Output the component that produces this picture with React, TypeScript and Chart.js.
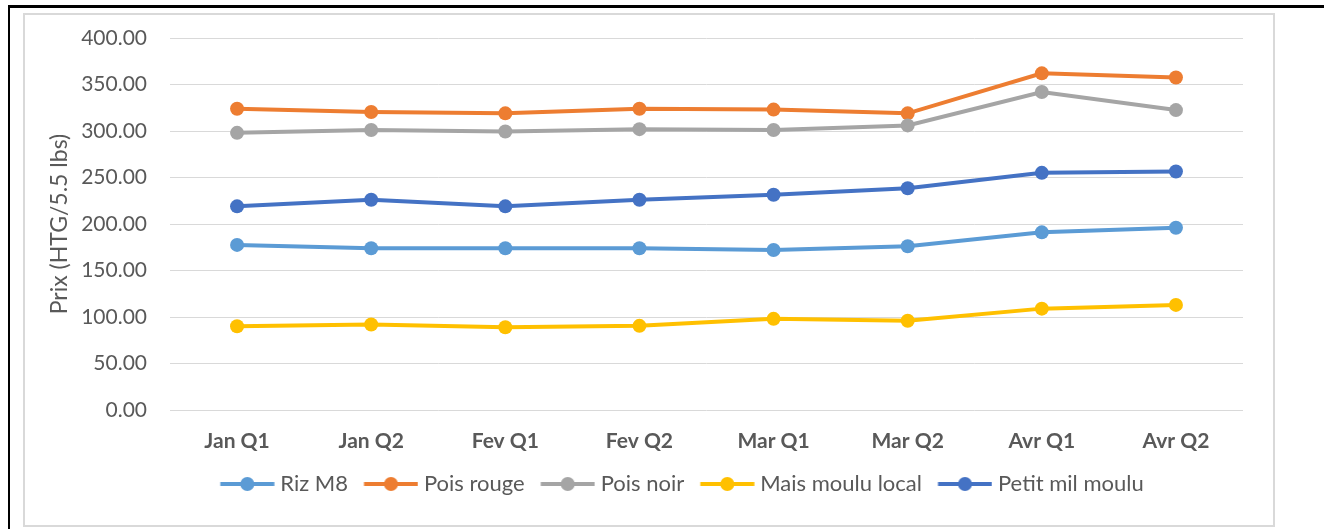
import React, { useEffect, useRef } from "react";
import { Chart, registerables } from "chart.js";

Chart.register(...registerables);

const categories = ["Jan Q1", "Jan Q2", "Fev Q1", "Fev Q2", "Mar Q1", "Mar Q2", "Avr Q1", "Avr Q2"];
const rizM8 = [177.5, 174, 174, 174, 172, 176, 191, 196];
const poisRouge = [324, 320.5, 319, 324, 323, 319, 362, 357.5];
const poisNoir = [298, 301, 299.5, 302, 301, 306, 342, 322.5];
const maisMouluLocal = [90, 92, 89, 90.5, 98, 96, 109, 113];
const petitMilMoulu = [219, 226, 219, 226, 231.5, 238.5, 255, 256.5];
const seriesNames = ["Riz M8", "Pois rouge", "Pois noir", "Mais moulu local", "Petit mil moulu"];
const seriesValues = [rizM8, poisRouge, poisNoir, maisMouluLocal, petitMilMoulu];
const seriesColors = ["#5B9BD5", "#ED7D31", "#A5A5A5", "#FFC000", "#4472C4"];
const yAxisTitle = "Prix (HTG/5.5 lbs)";
const yMin = 0;
const yMax = 400;
const yStep = 50;

const TEXT = "#595959";
const FONT = "Lato";

function makeMarker(color: string): HTMLCanvasElement {
  const c = document.createElement("canvas");
  c.width = 60;
  c.height = 16;
  const ctx = c.getContext("2d")!;
  ctx.strokeStyle = color;
  ctx.fillStyle = color;
  ctx.lineWidth = 4;
  ctx.beginPath();
  ctx.moveTo(5.5, 8);
  ctx.lineTo(59.5, 8);
  ctx.stroke();
  ctx.beginPath();
  ctx.arc(32.5, 8, 7, 0, Math.PI * 2);
  ctx.fill();
  return c;
}

export default function App() {
  const ref = useRef<HTMLCanvasElement | null>(null);

  useEffect(() => {
    if (!ref.current) return;
    const markers = seriesColors.map(makeMarker);
    const legendShift = {
      id: "legendShift",
      afterLayout(chart: any) {
        const l = chart.legend;
        if (l) {
          l.left += 48;
          l.right += 48;
        }
      },
    };
    const chart = new Chart(ref.current, {
      type: "line",
      data: {
        labels: categories,
        datasets: seriesNames.map((name, i) => ({
          label: name,
          data: seriesValues[i],
          borderColor: seriesColors[i],
          backgroundColor: seriesColors[i],
          borderWidth: 4,
          pointRadius: 7,
          pointBorderWidth: 0,
          pointBackgroundColor: seriesColors[i],
          tension: 0,
          order: seriesNames.length - i,
        })),
      },
      options: {
        animation: false,
        responsive: false,
        layout: { padding: { left: 0, right: 30, top: 23, bottom: 20 } },
        plugins: {
          title: { display: false },
          tooltip: { enabled: false },
          legend: {
            position: "bottom",
            labels: {
              usePointStyle: true,
              pointStyleWidth: 49,
              padding: 16,
              color: TEXT,
              font: { family: FONT, size: 22 },
              sort: (a: any, b: any) => a.datasetIndex - b.datasetIndex,
              generateLabels: (ch: any) => {
                const items = (Chart as any).defaults.plugins.legend.labels.generateLabels(ch);
                items.forEach((it: any) => {
                  it.pointStyle = markers[it.datasetIndex];
                });
                return items;
              },
            },
          },
        },
        scales: {
          x: {
            offset: true,
            grid: { display: false, drawTicks: false, offset: true },
            border: { display: false },
            ticks: {
              padding: 19,
              color: TEXT,
              font: { family: FONT, size: 21, weight: "bold" },
              maxRotation: 0,
            },
            afterFit: (s: any) => {
              s.height = 47;
            },
          },
          y: {
            min: yMin,
            max: yMax,
            ticks: {
              stepSize: yStep,
              padding: 0,
              color: TEXT,
              font: { family: FONT, size: 21 },
              callback: (v: any) => Number(v).toFixed(2),
            },
            grid: { color: "#D9D9D9", lineWidth: 1, drawTicks: true, tickLength: 23, tickColor: "rgba(0,0,0,0)" },
            border: { display: false },
            title: {
              display: true,
              text: yAxisTitle,
              color: TEXT,
              font: { family: FONT, size: 23 },
              padding: { top: 21, bottom: 0 },
            },
            afterFit: (s: any) => {
              s.width = 145;
            },
          },
        },
      },
      plugins: [legendShift],
    } as any);
    return () => chart.destroy();
  }, []);

  return (
    <div style={{ position: "fixed", left: 0, top: 0, width: 1324, height: 529, background: "#fff", overflow: "hidden" }}>
      <div style={{ position: "absolute", left: 8, top: 5, width: 1316, height: 3, background: "#000" }} />
      <div style={{ position: "absolute", left: 8, top: 5, width: 2, height: 524, background: "#000" }} />
      <div
        style={{
          position: "absolute",
          left: 23,
          top: 13,
          width: 1248,
          height: 510,
          border: "2px solid #D9D9D9",
        }}
      >
        <canvas ref={ref} width={1248} height={510} style={{ display: "block" }} />
      </div>
    </div>
  );
}
